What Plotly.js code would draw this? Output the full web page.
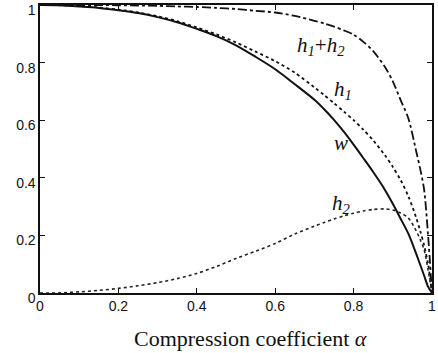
<!DOCTYPE html>
<html>
<head>
<meta charset="utf-8">
<script src="https://cdn.plot.ly/plotly-3.0.1.min.js"></script>
<style>
  html, body { margin: 0; padding: 0; background: #fff; }
  #chart { width: 438px; height: 353px; }
</style>
</head>
<body>
<div id="chart"></div>
<script>
// Compression coefficient alpha
const alpha = [0, 0.05, 0.1, 0.15, 0.2, 0.25, 0.3, 0.35, 0.4, 0.45, 0.5, 0.55, 0.6, 0.65, 0.7, 0.725, 0.75, 0.775, 0.8, 0.825, 0.85, 0.88, 0.9, 0.92, 0.94, 0.96, 0.97, 0.98, 0.99, 1.0];

const w      = [1, 0.999, 0.995, 0.99, 0.982, 0.972, 0.958, 0.94, 0.917, 0.892, 0.86, 0.82, 0.777, 0.725, 0.671, 0.638, 0.601, 0.56, 0.515, 0.468, 0.42, 0.358, 0.31, 0.258, 0.205, 0.135, 0.098, 0.06, 0.022, 0];
const h1     = [1, 0.999, 0.996, 0.991, 0.984, 0.974, 0.961, 0.944, 0.922, 0.898, 0.87, 0.838, 0.805, 0.765, 0.714, 0.687, 0.659, 0.63, 0.6, 0.567, 0.53, 0.478, 0.438, 0.392, 0.335, 0.26, 0.215, 0.165, 0.1, 0];
const h1h2   = [1, 1, 1, 1, 0.999, 0.998, 0.997, 0.995, 0.993, 0.99, 0.986, 0.98, 0.974, 0.962, 0.945, 0.936, 0.925, 0.912, 0.897, 0.872, 0.84, 0.785, 0.735, 0.67, 0.605, 0.49, 0.43, 0.358, 0.2, 0];
const h2     = [0, 0.0005, 0.004, 0.009, 0.016, 0.025, 0.036, 0.05, 0.068, 0.092, 0.12, 0.145, 0.172, 0.205, 0.232, 0.245, 0.257, 0.268, 0.277, 0.285, 0.29, 0.292, 0.288, 0.278, 0.26, 0.215, 0.185, 0.15, 0.08, 0];

const tickVals = [0, 0.2, 0.4, 0.6, 0.8, 1];
const tickText = ['0', '0.2', '0.4', '0.6', '0.8', '1'];

const traces = [
  {x: alpha, y: h1h2, mode: 'lines', line: {color: '#111', width: 1.8, dash: 'dashdot', shape: 'spline', smoothing: 0.8}, name: 'h1+h2'},
  {x: alpha, y: h1,   mode: 'lines', line: {color: '#111', width: 1.8, dash: 'dot', shape: 'spline', smoothing: 0.8}, name: 'h1'},
  {x: alpha, y: w,    mode: 'lines', line: {color: '#111', width: 2, shape: 'spline', smoothing: 0.8}, name: 'w'},
  {x: alpha, y: h2,   mode: 'lines', line: {color: '#222', width: 1.6, dash: 'dot', shape: 'spline', smoothing: 0.8}, name: 'h2'}
];

const serif = {family: 'Liberation Serif, Times New Roman, serif', size: 21, color: '#111'};

const layout = {
  width: 438, height: 353,
  margin: {l: 40, r: 6, t: 5, b: 60},
  paper_bgcolor: '#fff', plot_bgcolor: '#fff',
  showlegend: false,
  font: {family: 'Liberation Sans, Arial, sans-serif', size: 14, color: '#111'},
  xaxis: {
    range: [0, 1], tickvals: tickVals, ticktext: tickText,
    ticks: 'inside', ticklen: 5, tickwidth: 1.2, tickcolor: '#111',
    showline: true, linecolor: '#111', linewidth: 1.6, mirror: 'ticks',
    showgrid: false, zeroline: false, fixedrange: true,
    ticklabeloverflow: 'allow'
  },
  yaxis: {
    range: [0, 1], tickvals: tickVals, ticktext: tickText,
    ticks: 'inside', ticklen: 5, tickwidth: 1.2, tickcolor: '#111',
    ticklabelshift: 5, ticklabeloverflow: 'allow',
    showline: true, linecolor: '#111', linewidth: 1.6, mirror: 'ticks',
    showgrid: false, zeroline: false, fixedrange: true
  },
  annotations: [
    {x: 0.718, y: 0.858, xref: 'x', yref: 'y', showarrow: false,
     text: '<i>h<sub>1</sub></i>+<i>h<sub>2</sub></i>', font: serif},
    {x: 0.772, y: 0.705, xref: 'x', yref: 'y', showarrow: false,
     text: '<i>h<sub>1</sub></i>', font: serif},
    {x: 0.767, y: 0.52, xref: 'x', yref: 'y', showarrow: false,
     text: '<i>w</i>', font: serif},
    {x: 0.77, y: 0.31, xref: 'x', yref: 'y', showarrow: false,
     text: '<i>h<sub>2</sub></i>', font: serif},
    {x: 0.537, y: -0.158, xref: 'paper', yref: 'paper', showarrow: false,
     xanchor: 'center', yanchor: 'middle',
     text: 'Compression coefficient <i>α</i>',
     font: {family: 'Liberation Serif, Times New Roman, serif', size: 22, color: '#111'}}
  ]
};

Plotly.newPlot('chart', traces, layout, {displayModeBar: false, staticPlot: true});
</script>
</body>
</html>
